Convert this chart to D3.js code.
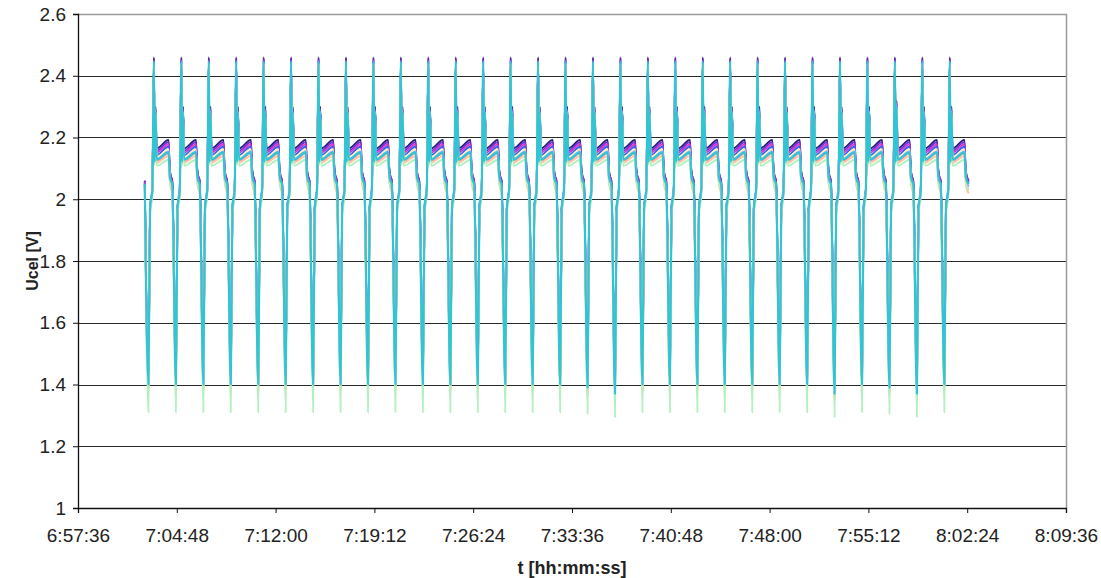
<!DOCTYPE html>
<html><head><meta charset="utf-8">
<script src="https://cdn.jsdelivr.net/npm/d3@7"></script>
<style>
body{margin:0;background:#fff}
text{font-family:"Liberation Sans",Arial,Helvetica,sans-serif}
</style>
</head><body>
<svg id="chart" width="1101" height="578"></svg>
<script>
// ---------------- data ----------------
const yTickValues = [1, 1.2, 1.4, 1.6, 1.8, 2, 2.2, 2.4, 2.6];
const xTickLabels = ["6:57:36","7:04:48","7:12:00","7:19:12","7:26:24","7:33:36","7:40:48","7:48:00","7:55:12","8:02:24","8:09:36"];

// time of the charge peak of every cycle
const cyclePeaks = ["7:03:08","7:05:08","7:07:08","7:09:08","7:11:08","7:13:08","7:15:08","7:17:08","7:19:08","7:21:08",
                    "7:23:08","7:25:08","7:27:08","7:29:08","7:31:08","7:33:08","7:35:08","7:37:08","7:39:08","7:41:08",
                    "7:43:08","7:45:08","7:47:08","7:49:08","7:51:08","7:53:08","7:55:08","7:57:08","7:59:08","8:01:08"];
// extra depth of the discharge minimum per cycle [V]
const cycleMinShift = [0,0,0,0,0,0,0,0,0,0, 0,0,0,0,0,0,-0.01,-0.03,0,0, 0,0,0,0,0,-0.03,0,-0.01,-0.03,0];
// height of second charge spike per cycle [V]
const cycleSpike2 = [2.30,2.30,2.30,2.30,2.30,2.30,2.30,2.30,2.30,2.30, 2.30,2.30,2.30,2.30,2.30,2.30,2.30,2.30,2.30,2.30,
                     2.30,2.30,2.30,2.30,2.30,2.30,2.30,2.32,2.30,2.30];

// shape of one cycle: time offsets relative to the peak [s]
const phaseOffsets = [-40, -24, -17, -7, 0, 3, 7, 12, 64, 69, 74];

// cells (series)
const cellNames  = ["C1","C2","C3","C4","C5","C6","C7","C8","C9","C10"];
const cellColors = ["#221f78","#7a2bd6","#d43ad0","#3b5fe8","#fff0b8","#82b6f6","#ff9fb0","#ffc49c","#b4efc0","#33c4d4"];
// voltages of every cell at each phase point
const vDischargeStart = [2.06, 2.06, 2.055,2.05, 2.02, 2.04, 2.03, 2.02, 2.03, 2.05];
const vDischargeMin   = [1.41, 1.41, 1.40, 1.42, 1.37, 1.40, 1.385,1.38, 1.31, 1.40];
const vKneeLow        = [1.97, 1.97, 1.97, 1.97, 1.96, 1.98, 1.96, 1.96, 1.95, 1.97];
const vKneeHigh       = [2.03, 2.03, 2.03, 2.03, 2.02, 2.04, 2.02, 2.02, 2.01, 2.03];
const vPeak           = [2.46, 2.455,2.45, 2.45, 2.44, 2.445,2.44, 2.44, 2.43, 2.445];
const vDip            = [2.13, 2.13, 2.13, 2.13, 2.12, 2.12, 2.12, 2.12, 2.11, 2.12];
const vSpike2Offset   = [0, -0.005,-0.01,-0.01,-0.02,-0.015,-0.02,-0.02,-0.03,-0.02];
const vPlateauStart   = [2.165,2.158,2.151,2.143,2.136,2.13, 2.124,2.118,2.108,2.128];
const vPlateauEnd     = [2.192,2.185,2.178,2.17, 2.162,2.155,2.148,2.14, 2.128,2.152];
const vDropMid        = [2.10, 2.10, 2.095,2.09, 2.06, 2.08, 2.07, 2.06, 2.065,2.08];
const vRest           = [2.075,2.075,2.07, 2.065,2.035,2.055,2.045,2.035,2.04, 2.06];

// ---------------- build ----------------
const parseT = s => { const p = s.split(":").map(Number); return p[0]*3600 + p[1]*60 + p[2]; };
const fmtT = t => { const h = Math.floor(t/3600), m = Math.floor((t%3600)/60), s = Math.round(t%60);
  return h + ":" + String(m).padStart(2,"0") + ":" + String(s).padStart(2,"0"); };

const series = cellNames.map((name, c) => {
  const pts = [];
  cyclePeaks.forEach((pk, k) => {
    const t0 = parseT(pk);
    const vals = [vDischargeStart[c], vDischargeMin[c] + (c === 8 ? cycleMinShift[k]*0.5 : cycleMinShift[k]),
      vKneeLow[c], vKneeHigh[c], vPeak[c], vDip[c], cycleSpike2[k] + vSpike2Offset[c],
      vPlateauStart[c], vPlateauEnd[c], vDropMid[c], vRest[c]];
    phaseOffsets.forEach((o, i) => pts.push([t0 + o, vals[i]]));
  });
  const last = parseT(cyclePeaks[cyclePeaks.length-1]);
  pts.push([last + 83, vDischargeStart[c]]);
  return {name, color: cellColors[c], pts};
});

// ---------------- draw ----------------
const svg = d3.select("#chart");
const m = {l: 78, r: 1066, t: 14, b: 508};
const x = d3.scaleLinear().domain([parseT(xTickLabels[0]), parseT(xTickLabels[xTickLabels.length-1])]).range([m.l, m.r]);
const y = d3.scaleLinear().domain([1, 2.6]).range([m.b, m.t]);

// gridlines
svg.append("g").selectAll("line").data(yTickValues.filter(v => v > 1 && v < 2.6)).join("line")
  .attr("x1", m.l).attr("x2", m.r).attr("y1", d => Math.round(y(d))+0.5).attr("y2", d => Math.round(y(d))+0.5)
  .attr("stroke", "#2a2a2a").attr("stroke-width", 1.2);
// plot border top/right
svg.append("path").attr("d", `M${m.l},${y(2.6)+0.5}H${m.r+0.5}V${m.b}`)
  .attr("fill","none").attr("stroke","#9a9a9a").attr("stroke-width",1.5);

// series
const line = d3.line().x(d => x(d[0])).y(d => y(d[1])).curve(d3.curveMonotoneX);
svg.append("g").selectAll("path").data(series).join("path")
  .attr("d", d => line(d.pts)).attr("fill","none")
  .attr("stroke", d => d.color)
  .attr("stroke-width", (d,i) => i === series.length-1 ? 2.2 : 1.8)
  .attr("stroke-linejoin","round");

// axes
const yAxis = svg.append("g").attr("transform", `translate(${m.l},0)`)
  .call(d3.axisLeft(y).tickValues(yTickValues).tickSize(5).tickPadding(7).tickFormat(d => String(d)));
const xAxis = svg.append("g").attr("transform", `translate(0,${m.b})`)
  .call(d3.axisBottom(x).tickValues(xTickLabels.map(parseT)).tickSize(5).tickPadding(16).tickFormat(fmtT));
[yAxis, xAxis].forEach(a => {
  a.select(".domain").attr("stroke","#111").attr("stroke-width",1.3);
  a.selectAll(".tick line").attr("stroke","#111");
  a.selectAll("text").attr("font-size", 19).attr("fill","#222")
   .style("font-family", '"Liberation Sans",Arial,sans-serif');
});

svg.append("text").attr("transform", `translate(38,${(m.t+m.b)/2}) rotate(-90)`)
  .attr("text-anchor","middle").attr("font-size",16).attr("font-weight","bold").attr("fill","#222")
  .text("Ucel [V]");
svg.append("text").attr("x", 572).attr("y", 574)
  .attr("text-anchor","middle").attr("font-size",18).attr("font-weight","bold").attr("fill","#222")
  .text("t [hh:mm:ss]");
</script>
</body></html>
